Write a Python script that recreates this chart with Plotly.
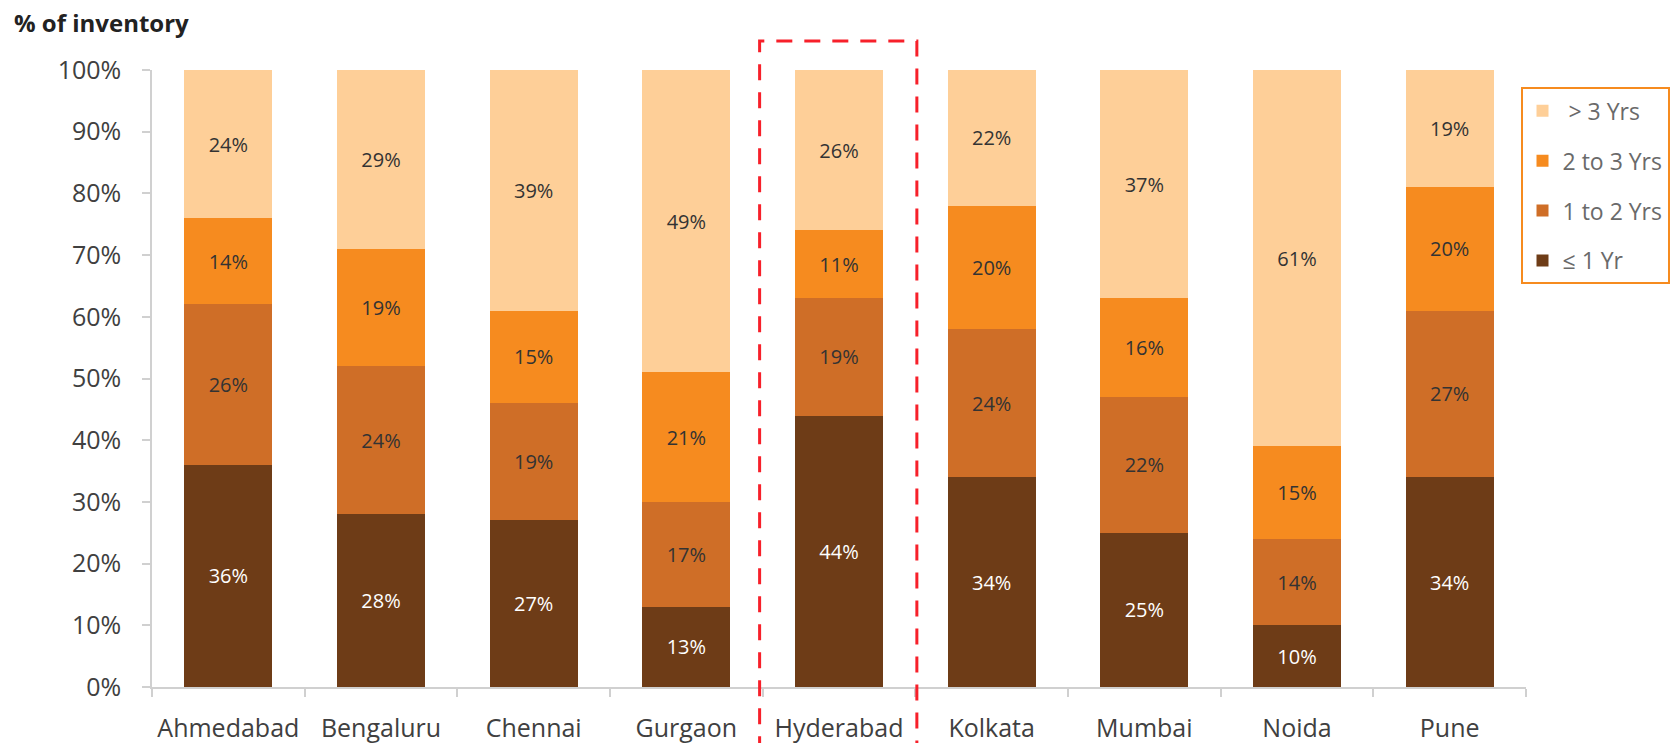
import plotly.graph_objects as go

cities = ["Ahmedabad", "Bengaluru", "Chennai", "Gurgaon", "Hyderabad",
          "Kolkata", "Mumbai", "Noida", "Pune"]
le_1yr = [36, 28, 27, 13, 44, 34, 25, 10, 34]
yr_1_2 = [26, 24, 19, 17, 19, 24, 22, 14, 27]
yr_2_3 = [14, 19, 15, 21, 11, 20, 16, 15, 20]
gt_3yr = [24, 29, 39, 49, 26, 22, 37, 61, 19]
y_ticks = [0, 10, 20, 30, 40, 50, 60, 70, 80, 90, 100]

series = [
    ("≤ 1 Yr", le_1yr, "#6E3C17", "white"),
    ("1 to 2 Yrs", yr_1_2, "#CF6E27", "#333333"),
    ("2 to 3 Yrs", yr_2_3, "#F68B1F", "#333333"),
    ("&nbsp;> 3 Yrs", gt_3yr, "#FECF98", "#333333"),
]

FONT = "Open Sans"
W, H = 1676, 743
L, R, T, B = 152, 150, 70, 56

fig = go.Figure()
for i, (name, vals, col, tcol) in enumerate(series):
    fig.add_trace(go.Bar(
        x=cities, y=[v / 100 for v in vals], name=name,
        marker=dict(color=col, line=dict(width=0)),
        text=[f"{v}%" for v in vals], textposition="inside",
        insidetextanchor="middle",
        textfont=dict(family=FONT, size=20, color=tcol),
        legendgroup=f"g{i}", legendrank=10 - i,
    ))

fig.update_layout(
    width=W, height=H,
    margin=dict(l=L, r=R, t=T, b=B, autoexpand=False),
    barmode="stack", bargap=0.424,
    plot_bgcolor="white", paper_bgcolor="white",
    font=dict(family=FONT, color="#404040"),
    showlegend=True,
    legend=dict(
        x=0.996, xanchor="left", y=0.972, yanchor="top",
        bordercolor="#F68B1F", borderwidth=2,
        font=dict(family=FONT, size=23, color="#6A6A6A"),
        traceorder="grouped", tracegroupgap=17,
        itemwidth=30,
    ),
    xaxis=dict(
        showline=True, linecolor="#D0D0D0", linewidth=1.5,
        ticks="outside", tickson="boundaries", ticklen=8,
        tickcolor="#D0D0D0", tickwidth=1.5,
        tickfont=dict(family=FONT, size=25, color="#404040"),
        tickangle=0,
        ticklabelstandoff=18, automargin=False,
        showgrid=False,
    ),
    yaxis=dict(
        range=[0, 1], tickvals=[v / 100 for v in y_ticks],
        ticktext=[f"{v}%" for v in y_ticks],
        showline=True, linecolor="#D0D0D0", linewidth=1.5,
        ticks="outside", ticklen=8, tickcolor="#D0D0D0", tickwidth=1.5,
        tickfont=dict(family=FONT, size=25, color="#404040"),
        ticklabelstandoff=16, automargin=False,
        showgrid=False, zeroline=False,
    ),
)

fig.add_shape(
    type="rect", xref="x", yref="paper",
    x0=3.48, x1=4.51, y0=-0.13, y1=1.047,
    line=dict(color="#F7202A", width=3, dash="16px,12px"),
    fillcolor="rgba(0,0,0,0)", layer="above",
)

fig.add_annotation(
    text="<b>% of inventory</b>", xref="paper", yref="paper",
    x=-(L - 12) / (W - L - R), y=1 + (T - 22) / (H - T - B),
    xanchor="left", yanchor="middle", showarrow=False,
    font=dict(family=FONT, size=24, color="#222222"),
)

fig.write_html("out.html")
